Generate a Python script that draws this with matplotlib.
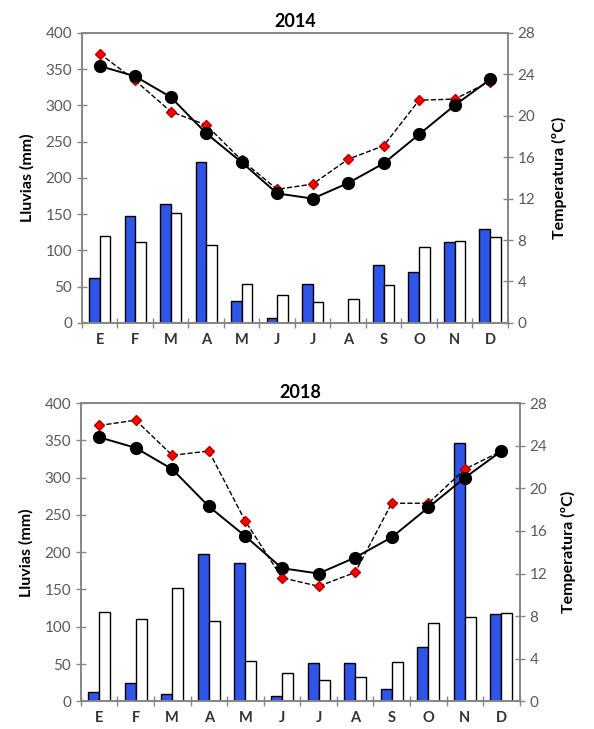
import numpy as np
import matplotlib
matplotlib.use("Agg")
import matplotlib.pyplot as plt

plt.rcParams['font.family'] = ['Lato', 'DejaVu Sans']

months = ['E', 'F', 'M', 'A', 'M', 'J', 'J', 'A', 'S', 'O', 'N', 'D']

# average rain (white bars) and average temperature (black circles)
rain_avg = [120, 111, 152, 108, 54, 38, 29, 33, 53, 105, 113, 119]
temp_avg = [24.8, 23.8, 21.8, 18.3, 15.5, 12.5, 12.0, 13.5, 15.4, 18.2, 21.0, 23.5]

# 2014
rain_2014 = [62, 147, 164, 222, 30, 7, 54, 0, 80, 70, 112, 130]
temp_2014 = [26.0, 23.4, 20.4, 19.1, 15.7, 12.9, 13.4, 15.8, 17.1, 21.5, 21.6, 23.3]

# 2018
rain_2018 = [12, 25, 10, 198, 186, 7, 52, 51, 17, 73, 347, 117]
temp_2018 = [25.9, 26.4, 23.1, 23.5, 16.9, 11.6, 10.8, 12.1, 18.6, 18.6, 21.8, 23.5]

blue = '#2f55e8'
grey = '#868686'
txt = '#595959'


def draw_panel(fig, rect, title, rain, temp, rpad):
    ax = fig.add_axes(rect)
    x = np.arange(len(months))
    w = 0.3
    ax.bar(x - w / 2, rain, w, color=blue, edgecolor='black', linewidth=1.0, zorder=2)
    ax.bar(x + w / 2, rain_avg, w, color='white', edgecolor='black', linewidth=1.0, zorder=2)
    ax.set_xlim(-0.5, 11.5)
    ax.set_ylim(0, 400)
    ax.set_yticks(range(0, 401, 50))
    ax.set_xticks(x)
    ax.set_xticklabels(months, fontweight='bold', fontsize=10.5, color='#333333')
    ax.set_xticks(np.arange(-0.5, 12, 1), minor=True)
    ax.tick_params(axis='x', which='major', length=0, pad=7)
    ax.tick_params(axis='x', which='minor', length=7, direction='inout', color=grey, width=1)
    ax.tick_params(axis='y', length=7, direction='inout', color=grey, width=1,
                   labelsize=11, labelcolor=txt)
    ax.set_ylabel('Lluvias (mm)', fontweight='bold', fontsize=11.5, labelpad=8)
    ax.set_title(title, fontweight='bold', fontsize=13, pad=4)

    ax2 = ax.twinx()
    ax2.plot(x, temp, color='black', linestyle='--', linewidth=1.0, marker='D',
             markersize=5.5, markerfacecolor='red', markeredgecolor='#b00000', zorder=3)
    ax2.plot(x, temp_avg, color='black', linestyle='-', linewidth=1.4, marker='o',
             markersize=8.5, markerfacecolor='black', markeredgecolor='black', zorder=4)
    ax2.set_ylim(0, 28)
    ax2.set_yticks(range(0, 29, 4))
    ax2.tick_params(axis='y', length=7, direction='inout', color=grey, width=1,
                    labelsize=11, labelcolor=txt)
    ax2.set_ylabel('Temperatura (ºC)', fontweight='bold', fontsize=11.5, labelpad=rpad)

    for a in (ax, ax2):
        for s in a.spines.values():
            s.set_color(grey)
            s.set_linewidth(1.2)
    return ax, ax2


fig = plt.figure(figsize=(5.94, 7.29), dpi=100)
draw_panel(fig, [0.138, 0.557, 0.717, 0.398], '2014', rain_2014, temp_2014, 12)
draw_panel(fig, [0.136, 0.038, 0.739, 0.409], '2018', rain_2018, temp_2018, 10)

fig.savefig('out.png', dpi=100)
